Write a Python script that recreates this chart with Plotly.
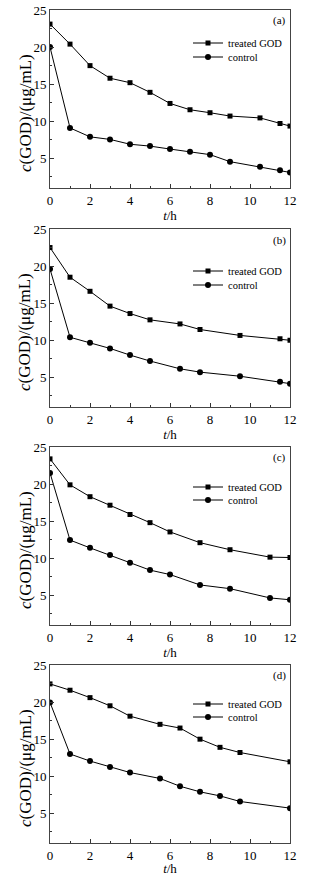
import plotly.graph_objects as go

# ---- data ----
t_a = [0, 1, 2, 3, 4, 5, 6, 7, 8, 9, 10.5, 11.5, 12]
treated_a = [23.1, 20.4, 17.5, 15.8, 15.2, 13.9, 12.4, 11.55, 11.15, 10.7, 10.45, 9.7, 9.35]
control_a = [20.0, 9.1, 7.9, 7.55, 6.9, 6.65, 6.25, 5.9, 5.5, 4.55, 3.85, 3.4, 3.1]

t_b = [0, 1, 2, 3, 4, 5, 6.5, 7.5, 9.5, 11.5, 12]
treated_b = [22.5, 18.5, 16.6, 14.6, 13.6, 12.75, 12.2, 11.45, 10.65, 10.2, 10.0]
control_b = [19.6, 10.4, 9.65, 8.9, 8.0, 7.2, 6.15, 5.7, 5.15, 4.4, 4.15]

t_c = [0, 1, 2, 3, 4, 5, 6, 7.5, 9, 11, 12]
treated_c = [23.4, 19.9, 18.3, 17.15, 15.9, 14.8, 13.55, 12.1, 11.15, 10.15, 10.1]
control_c = [21.5, 12.45, 11.4, 10.45, 9.4, 8.4, 7.8, 6.4, 5.9, 4.65, 4.4]

t_d = [0, 1, 2, 3, 4, 5.5, 6.5, 7.5, 8.5, 9.5, 12]
treated_d = [22.45, 21.6, 20.6, 19.5, 18.1, 17.0, 16.5, 15.0, 13.9, 13.2, 11.95]
control_d = [19.95, 13.0, 12.05, 11.25, 10.5, 9.7, 8.65, 7.9, 7.35, 6.6, 5.7]

panel_labels = ["(a)", "(b)", "(c)", "(d)"]
series_names = ["treated GOD", "control"]
x_ticks = [0, 2, 4, 6, 8, 10, 12]
y_ticks = [5, 10, 15, 20, 25]
x_title = "<i>t</i>/h"
y_title = "<i>c</i>(GOD)/(μg/mL)"

panels = [
    (t_a, treated_a, control_a),
    (t_b, treated_b, control_b),
    (t_c, treated_c, control_c),
    (t_d, treated_d, control_d),
]

# ---- layout geometry (pixels) ----
W, H = 313, 876
ML, MR, MT, MB = 50, 23, 10, 33
plot_h = H - MT - MB
panel_px = [(10, 188), (229, 407), (447, 625), (665, 843)]  # top, bottom
legend_rows_px = [(43, 57), (271, 285), (487, 500), (704, 717)]
label_px = [20, 240, 457, 675]

def fy(px):
    return (H - MB - px) / plot_h

def fx(px):
    return (px - ML) / (W - ML - MR)

FONT = "Liberation Serif"
fig = go.Figure()

def legend_key(i, j):
    return f"legend{2 * i + j + 2}"

for i, (t, tr, ct) in enumerate(panels):
    xa = "x" if i == 0 else f"x{i+1}"
    ya = "y" if i == 0 else f"y{i+1}"
    fig.add_trace(go.Scatter(
        x=t, y=tr, name=series_names[0], mode="lines+markers",
        line=dict(color="black", width=1),
        marker=dict(symbol="square", size=5, color="black"),
        xaxis=xa, yaxis=ya, legend=legend_key(i, 0)))
    fig.add_trace(go.Scatter(
        x=t, y=ct, name=series_names[1], mode="lines+markers",
        line=dict(color="black", width=1),
        marker=dict(symbol="circle", size=6, color="black"),
        xaxis=xa, yaxis=ya, legend=legend_key(i, 1)))

layout = dict(
    width=W, height=H,
    margin=dict(l=ML, r=MR, t=MT, b=MB, autoexpand=False),
    paper_bgcolor="white", plot_bgcolor="white",
    font=dict(family=FONT, color="black", size=13),
    annotations=[],
)

for i in range(4):
    top, bot = panel_px[i]
    sx = "" if i == 0 else str(i + 1)
    layout[f"xaxis{sx}"] = dict(
        domain=[0, 1], range=[0, 12], anchor=f"y{sx}",
        tickvals=x_ticks, ticks="inside", ticklen=4, tickwidth=1, tickcolor="#333",
        minor=dict(dtick=1, ticks="inside", ticklen=2, tickcolor="#333"),
        showline=True, linecolor="#444", linewidth=1, mirror=True,
        showgrid=False, zeroline=False,
        tickfont=dict(size=13, family=FONT),
        title=dict(text=x_title, font=dict(size=13, family=FONT), standoff=0),
    )
    layout[f"yaxis{sx}"] = dict(
        domain=[fy(bot), fy(top)], range=[1, 25], anchor=f"x{sx}",
        tickvals=y_ticks, ticks="inside", ticklen=4, tickwidth=1, tickcolor="#333",
        minor=dict(dtick=2.5, ticks="inside", ticklen=2, tickcolor="#333"),
        showline=True, linecolor="#444", linewidth=1, mirror=True,
        showgrid=False, zeroline=False,
        tickfont=dict(size=13, family=FONT),
    )
    for j in range(2):
        layout[legend_key(i, j)] = dict(
            x=fx(188), y=fy(legend_rows_px[i][j]), xanchor="left", yanchor="middle",
            bgcolor="rgba(0,0,0,0)", borderwidth=0,
            font=dict(size=10.5, family=FONT), itemwidth=30,
        )
    layout["annotations"].append(dict(
        text=panel_labels[i], xref="paper", yref="paper",
        x=fx(279), y=fy(label_px[i]), xanchor="center", yanchor="middle",
        showarrow=False, font=dict(size=11, family=FONT)))
    layout["annotations"].append(dict(
        text=y_title, xref="paper", yref="paper", textangle=-90,
        x=fx(25), y=fy((top + bot) / 2 + 14), xanchor="center", yanchor="middle",
        showarrow=False, font=dict(size=17, family=FONT)))

fig.update_layout(**layout)
fig.write_html("out.html", config={"displayModeBar": False},
               post_script="document.body.style.margin='0';")
